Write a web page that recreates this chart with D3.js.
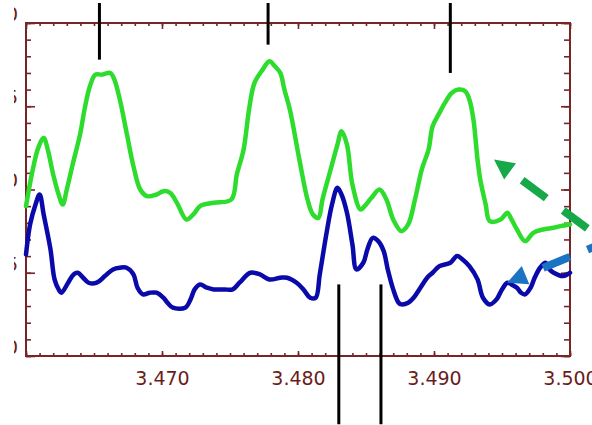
<!DOCTYPE html>
<html>
<head>
<meta charset="utf-8">
<script src="https://cdn.jsdelivr.net/npm/d3@7"></script>
<style>
  html, body { margin: 0; padding: 0; background: #ffffff; }
  svg { display: block; }
</style>
</head>
<body>
<svg id="chart" width="592" height="425"></svg>
<script>
// Spectral traces: position (x) against intensity (y)
const xDomain = [3.460, 3.500];
const yDomain = [0, 20];

const greenX = [3.4600,3.4605,3.4609,3.4613,3.4616,3.4620,3.4624,3.4627,3.4630,3.4634,
  3.4640,3.4643,3.4647,3.4651,3.4656,3.4662,3.4665,3.4669,3.4674,3.4679,
  3.4684,3.4689,3.4696,3.4701,3.4706,3.4711,3.4718,3.4723,3.4728,3.4738,
  3.4751,3.4755,3.4760,3.4764,3.4768,3.4774,3.4779,3.4783,3.4787,3.4790,
  3.4794,3.4801,3.4807,3.4811,3.4815,3.4818,3.4824,3.4829,3.4832,3.4836,
  3.4840,3.4846,3.4849,3.4854,3.4860,3.4865,3.4870,3.4876,3.4881,3.4886,
  3.4891,3.4896,3.4899,3.4904,3.4908,3.4913,3.4918,3.4923,3.4926,3.4929,
  3.4932,3.4934,3.4938,3.4941,3.4949,3.4954,3.4957,3.4961,3.4967,3.4973,
  3.4980,3.4988,3.4993,3.5000];
const greenY = [9.0,11.2,12.5,13.1,12.4,10.9,9.7,9.1,10.0,11.4,
  13.4,14.8,16.2,16.9,16.9,17.0,16.6,15.4,13.4,11.4,
  10.0,9.6,9.7,9.9,9.8,9.2,8.2,8.5,9.0,9.2,
  9.4,10.9,12.4,14.8,16.4,17.2,17.7,17.4,17.0,16.0,
  14.8,11.8,9.4,8.5,8.3,9.4,11.2,12.7,13.5,12.7,
  10.3,8.8,9.0,9.5,10.0,9.4,8.2,7.5,7.9,9.4,
  11.2,12.4,13.8,14.6,15.2,15.8,16.0,15.9,15.4,14.2,
  11.8,10.6,9.1,8.1,8.2,8.6,8.2,7.6,6.9,7.4,
  7.6,7.7,7.8,7.9];

const blueX = [3.4600,3.4603,3.4607,3.4610,3.4613,3.4618,3.4621,3.4624,3.4626,3.4631,
  3.4635,3.4638,3.4642,3.4646,3.4652,3.4658,3.4664,3.4669,3.4674,3.4679,
  3.4682,3.4686,3.4691,3.4696,3.4701,3.4704,3.4708,3.4717,3.4721,3.4724,
  3.4728,3.4733,3.4738,3.4746,3.4752,3.4757,3.4765,3.4772,3.4779,3.4787,
  3.4792,3.4799,3.4804,3.4809,3.4813,3.4816,3.4821,3.4825,3.4829,3.4832,
  3.4836,3.4840,3.4843,3.4848,3.4851,3.4855,3.4859,3.4863,3.4866,3.4870,
  3.4874,3.4876,3.4881,3.4885,3.4890,3.4895,3.4899,3.4904,3.4912,3.4917,
  3.4921,3.4926,3.4932,3.4936,3.4941,3.4946,3.4950,3.4954,3.4957,3.4961,
  3.4964,3.4967,3.4971,3.4974,3.4978,3.4982,3.4985,3.4988,3.4995,3.5000];
const blueY = [6.1,7.9,9.1,9.7,8.5,6.4,4.6,4.0,3.8,4.4,
  4.9,5.0,4.7,4.4,4.4,4.8,5.2,5.3,5.3,4.9,
  4.1,3.7,3.8,3.8,3.5,3.2,2.9,2.9,3.4,4.0,
  4.3,4.1,4.0,4.0,4.0,4.4,5.0,4.9,4.6,4.7,
  4.7,4.4,4.0,3.5,3.5,4.9,7.4,9.1,10.1,9.7,
  8.6,6.7,5.2,5.6,6.4,7.1,6.9,6.3,5.2,4.0,
  3.2,3.1,3.2,3.5,4.1,4.7,5.0,5.4,5.6,6.0,
  5.8,5.4,4.6,3.5,3.1,3.4,4.0,4.4,4.3,4.1,
  3.8,3.7,4.1,4.7,5.3,5.6,5.2,5.0,4.8,5.0];

// Axis ticks and labels
const xMajorTicks = [3.460, 3.470, 3.480, 3.490, 3.500];
const xLabelTicks = [3.470, 3.480, 3.490, 3.500];
const yMajorTicks = [0, 5, 10, 15, 20];
const yTickLabels = ["0", "5", "10", "15", "20"];

// Peak markers (x position, y extent in intensity units)
const topMarkerX = [3.4654, 3.4778, 3.4912];
const topMarkerEnd = [17.8, 18.7, 17.0];
const topMarkerStart = 21.2;
const bottomMarkerX = [3.4830, 3.4861];
const bottomMarkerRange = [4.3, -4.1];

// Pointer arrows: tip and tail in data units
const greenArrow = { tip: [3.49441, 11.8], tail: [3.50221, 7.1] };
const blueArrow = { tip: [3.49537, 4.4], tail: [3.50221, 6.7] };

const W = 592, H = 425;
const margin = { top: 23, right: 22, bottom: 69, left: 26 };
const frameColor = "#762626";
const labelColor = "#6a1d1d";

const svg = d3.select("#chart");
const x = d3.scaleLinear().domain(xDomain).range([margin.left, W - margin.right]);
const y = d3.scaleLinear().domain(yDomain).range([H - margin.bottom, margin.top]);
const x0 = x.range()[0], x1 = x.range()[1];
const y0 = y.range()[0], y1 = y.range()[1];

const xMinor = d3.range(0, 41).map(i => +(xDomain[0] + i * 0.001).toFixed(3));
const yMinor = d3.range(0, 21);

function styleAxis(g) {
  g.select(".domain").remove();
  g.attr("color", frameColor);
  g.selectAll(".tick line").attr("stroke-width", 1.6);
}

// bottom axis
svg.append("g").attr("transform", `translate(0,${y0})`)
  .call(d3.axisBottom(x).tickValues(xMinor).tickSize(-3).tickFormat(""))
  .call(styleAxis);
svg.append("g").attr("transform", `translate(0,${y0})`)
  .call(d3.axisBottom(x).tickValues(xMajorTicks).tickSize(-5).tickFormat(""))
  .call(styleAxis);
svg.append("g").attr("transform", `translate(0,${y0})`)
  .call(d3.axisBottom(x).tickValues(xLabelTicks).tickSize(0).tickPadding(16)
    .tickFormat(d3.format(".3f")))
  .call(styleAxis)
  .call(g => g.selectAll("text")
    .attr("fill", labelColor)
    .style("font-family", "'DejaVu Sans', sans-serif")
    .style("font-size", "19px"));

// top axis
svg.append("g").attr("transform", `translate(0,${y1})`)
  .call(d3.axisTop(x).tickValues(xMinor).tickSize(-3).tickFormat(""))
  .call(styleAxis);
svg.append("g").attr("transform", `translate(0,${y1})`)
  .call(d3.axisTop(x).tickValues(xMajorTicks).tickSize(-6).tickFormat(""))
  .call(styleAxis);

// left axis
svg.append("g").attr("transform", `translate(${x0},0)`)
  .call(d3.axisLeft(y).tickValues(yMinor).tickSize(-5).tickFormat(""))
  .call(styleAxis);
svg.append("g").attr("transform", `translate(${x0},0)`)
  .call(d3.axisLeft(y).tickValues(yMajorTicks).tickSize(-9).tickFormat(""))
  .call(styleAxis);

// right axis
svg.append("g").attr("transform", `translate(${x1},0)`)
  .call(d3.axisRight(y).tickValues(yMinor).tickSize(-6).tickFormat(""))
  .call(styleAxis);
svg.append("g").attr("transform", `translate(${x1},0)`)
  .call(d3.axisRight(y).tickValues(yMajorTicks).tickSize(-9).tickFormat(""))
  .call(styleAxis);

// y labels, trimmed at the page's left margin
svg.append("defs").append("clipPath").attr("id", "ylabel-clip")
  .append("rect").attr("x", 14).attr("y", 0).attr("width", 20).attr("height", H);
svg.append("g").attr("clip-path", "url(#ylabel-clip)")
  .selectAll("text").data(yMajorTicks).join("text")
  .attr("x", 18)
  .attr("y", d => y(d) - 9)
  .attr("dy", "0.36em")
  .attr("text-anchor", "end")
  .attr("fill", labelColor)
  .style("font-family", "'DejaVu Sans', sans-serif")
  .style("font-size", "19px")
  .text((d, i) => yTickLabels[i]);

// plot frame
svg.append("rect")
  .attr("x", x0).attr("y", y1)
  .attr("width", x1 - x0).attr("height", y0 - y1)
  .attr("fill", "none").attr("stroke", frameColor).attr("stroke-width", 2);

// traces
const line = d3.line().x(d => x(d[0])).y(d => y(d[1])).curve(d3.curveCatmullRom.alpha(0.5));
svg.append("path")
  .datum(greenX.map((v, i) => [v, greenY[i]]))
  .attr("d", line)
  .attr("fill", "none").attr("stroke", "#2edc2e")
  .attr("stroke-width", 4.5).attr("stroke-linejoin", "round").attr("stroke-linecap", "round");
svg.append("path")
  .datum(blueX.map((v, i) => [v, blueY[i]]))
  .attr("d", line)
  .attr("fill", "none").attr("stroke", "#0a0aaa")
  .attr("stroke-width", 4.5).attr("stroke-linejoin", "round").attr("stroke-linecap", "round");

// peak markers
svg.append("g").selectAll("line").data(topMarkerX).join("line")
  .attr("x1", d => x(d)).attr("x2", d => x(d))
  .attr("y1", y(topMarkerStart)).attr("y2", (d, i) => y(topMarkerEnd[i]))
  .attr("stroke", "#000").attr("stroke-width", 3);
svg.append("g").selectAll("line").data(bottomMarkerX).join("line")
  .attr("x1", d => x(d)).attr("x2", d => x(d))
  .attr("y1", y(bottomMarkerRange[0])).attr("y2", y(bottomMarkerRange[1]))
  .attr("stroke", "#000").attr("stroke-width", 3);

// dashed pointer arrows
function drawArrow(a, color, dashStart, dashArray) {
  const tip = [x(a.tip[0]), y(a.tip[1])];
  const tail = [x(a.tail[0]), y(a.tail[1])];
  const dx = tail[0] - tip[0], dy = tail[1] - tip[1];
  const len = Math.hypot(dx, dy);
  const ux = dx / len, uy = dy / len;
  const headLen = 20, headHalf = 10;
  const bx = tip[0] + ux * headLen, by = tip[1] + uy * headLen;
  const g = svg.append("g");
  g.append("polygon")
    .attr("points", [tip, [bx - uy * headHalf, by + ux * headHalf], [bx + uy * headHalf, by - ux * headHalf]]
      .map(p => p.join(",")).join(" "))
    .attr("fill", color);
  g.append("line")
    .attr("x1", tip[0] + ux * dashStart).attr("y1", tip[1] + uy * dashStart)
    .attr("x2", tail[0]).attr("y2", tail[1])
    .attr("stroke", color).attr("stroke-width", 8)
    .attr("stroke-dasharray", dashArray);
}
drawArrow(greenArrow, "#17a84a", 35, "30 21");
drawArrow(blueArrow, "#1a73c3", 39, "29 19");
</script>
</body>
</html>
